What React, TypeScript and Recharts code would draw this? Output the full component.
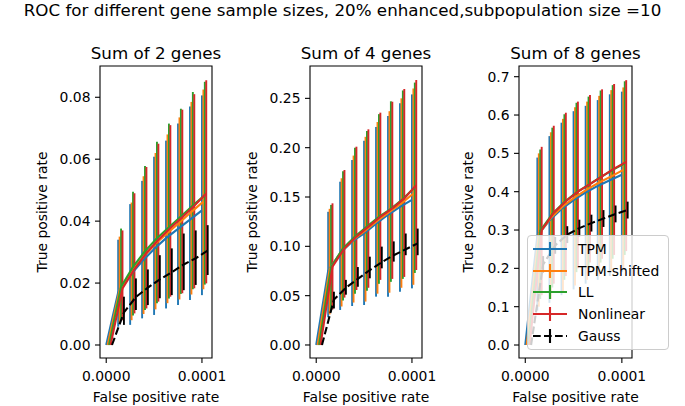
import { ComposedChart, Scatter, ErrorBar, XAxis, YAxis, ReferenceArea, Legend } from 'recharts';

const FONT = '"DejaVu Sans", Verdana, sans-serif';

// false positive rate thresholds
const fpr = [0, 0.0000125, 0.000025, 0.0000375, 0.00005, 0.0000625, 0.000075, 0.0000875, 0.0001];

const seriesNames = ['TPM', 'TPM-shifted', 'LL', 'Nonlinear', 'Gauss'];
const seriesColors = ['#1f77b4', '#ff7f0e', '#2ca02c', '#d62728', '#000000'];
// small x shift per method so the error bars don't sit on top of each other
const seriesShift = [0, 0.0000015, 0.000003, 0.0000045, 0.000006];

// Sum of 2 genes
const tpm2 = [0, 0.017, 0.0225, 0.027, 0.031, 0.0345, 0.0375, 0.0405, 0.0435];
const tpm2Lo = [0, 0.0059, 0.0065, 0.0086, 0.0097, 0.0118, 0.0129, 0.0145, 0.0161];
const tpm2Hi = [0, 0.034, 0.0455, 0.053, 0.0608, 0.066, 0.0715, 0.077, 0.0806];
const shift2 = [0, 0.0178, 0.0237, 0.0285, 0.0327, 0.0362, 0.0395, 0.043, 0.0463];
const shift2Lo = [0, 0.007, 0.008, 0.01, 0.0115, 0.0135, 0.0147, 0.0163, 0.018];
const shift2Hi = [0, 0.035, 0.046, 0.0545, 0.062, 0.068, 0.0735, 0.0785, 0.0825];
const ll2 = [0, 0.0188, 0.0252, 0.0303, 0.0345, 0.038, 0.0415, 0.045, 0.0484];
const ll2Lo = [0, 0.0078, 0.0095, 0.0113, 0.0135, 0.015, 0.0165, 0.018, 0.0195];
const ll2Hi = [0, 0.0376, 0.0495, 0.0578, 0.0656, 0.0715, 0.0763, 0.0817, 0.085];
const nl2 = [0, 0.0183, 0.0245, 0.0297, 0.034, 0.0378, 0.0413, 0.045, 0.0489];
const nl2Lo = [0, 0.008, 0.0102, 0.0118, 0.014, 0.0156, 0.0167, 0.0183, 0.0199];
const nl2Hi = [0, 0.037, 0.049, 0.0575, 0.065, 0.071, 0.076, 0.081, 0.0855];
const gauss2 = [0, 0.0105, 0.0155, 0.0185, 0.0212, 0.0235, 0.026, 0.028, 0.0305];
const gauss2Lo = [0, 0.0065, 0.0113, 0.0129, 0.0151, 0.0161, 0.0177, 0.0194, 0.0226];
const gauss2Hi = [0, 0.0156, 0.0215, 0.0244, 0.029, 0.0312, 0.036, 0.037, 0.0387];

// Sum of 4 genes
const tpm4 = [0, 0.075, 0.093, 0.105, 0.113, 0.123, 0.132, 0.14, 0.147];
const tpm4Lo = [0, 0.028, 0.0355, 0.0395, 0.0405, 0.049, 0.049, 0.054, 0.0574];
const tpm4Hi = [0, 0.135, 0.1655, 0.1875, 0.207, 0.221, 0.232, 0.245, 0.254];
const shift4 = [0, 0.077, 0.095, 0.107, 0.116, 0.126, 0.135, 0.1436, 0.1535];
const shift4Lo = [0, 0.031, 0.039, 0.043, 0.044, 0.052, 0.053, 0.058, 0.061];
const shift4Hi = [0, 0.138, 0.169, 0.192, 0.211, 0.226, 0.237, 0.25, 0.26];
const ll4 = [0, 0.079, 0.098, 0.11, 0.12, 0.13, 0.138, 0.148, 0.16];
const ll4Lo = [0, 0.034, 0.045, 0.052, 0.055, 0.062, 0.064, 0.067, 0.073];
const ll4Hi = [0, 0.142, 0.176, 0.2, 0.217, 0.234, 0.247, 0.258, 0.266];
const nl4 = [0, 0.0794, 0.098, 0.11, 0.12, 0.13, 0.1385, 0.1486, 0.162];
const nl4Lo = [0, 0.036, 0.048, 0.0557, 0.058, 0.066, 0.067, 0.069, 0.076];
const nl4Hi = [0, 0.1436, 0.1774, 0.201, 0.2186, 0.2355, 0.2466, 0.2595, 0.2686];
const gauss4 = [0, 0.046, 0.058, 0.067, 0.076, 0.084, 0.091, 0.097, 0.103];
const gauss4Lo = [0, 0.037, 0.051, 0.059, 0.0676, 0.0777, 0.0845, 0.091, 0.091];
const gauss4Hi = [0, 0.054, 0.066, 0.079, 0.0895, 0.0997, 0.105, 0.113, 0.118];

// Sum of 8 genes
const tpm8 = [0, 0.285, 0.325, 0.355, 0.378, 0.398, 0.415, 0.43, 0.444];
const tpm8Lo = [0, 0.09, 0.11, 0.13, 0.145, 0.16, 0.17, 0.18, 0.19];
const tpm8Hi = [0, 0.489, 0.545, 0.58, 0.61, 0.624, 0.639, 0.654, 0.661];
const shift8 = [0, 0.29, 0.332, 0.362, 0.386, 0.406, 0.424, 0.44, 0.457];
const shift8Lo = [0, 0.1, 0.12, 0.14, 0.155, 0.17, 0.18, 0.19, 0.2];
const shift8Hi = [0, 0.5, 0.555, 0.59, 0.62, 0.635, 0.65, 0.665, 0.672];
const ll8 = [0, 0.298, 0.342, 0.373, 0.398, 0.418, 0.438, 0.457, 0.474];
const ll8Lo = [0, 0.12, 0.15, 0.17, 0.19, 0.2, 0.215, 0.225, 0.235];
const ll8Hi = [0, 0.51, 0.567, 0.602, 0.632, 0.648, 0.664, 0.678, 0.688];
const nl8 = [0, 0.3, 0.345, 0.375, 0.4, 0.42, 0.44, 0.46, 0.478];
const nl8Lo = [0, 0.13, 0.16, 0.18, 0.2, 0.215, 0.225, 0.235, 0.245];
const nl8Hi = [0, 0.517, 0.572, 0.606, 0.635, 0.652, 0.667, 0.681, 0.691];
const gauss8 = [0, 0.21, 0.26, 0.288, 0.305, 0.318, 0.33, 0.342, 0.352];
const gauss8Lo = [0, 0.188, 0.238, 0.266, 0.283, 0.296, 0.308, 0.32, 0.33];
const gauss8Hi = [0, 0.232, 0.282, 0.31, 0.327, 0.34, 0.352, 0.364, 0.374];

const xTicks = [0, 0.0001];
const yTicks2 = [0, 0.02, 0.04, 0.06, 0.08];
const yTicks4 = [0, 0.05, 0.1, 0.15, 0.2, 0.25];
const yTicks8 = [0, 0.1, 0.2, 0.3, 0.4, 0.5, 0.6, 0.7];

const X_DOMAIN: [number, number] = [-0.0000065, 0.0001105];

type Triple = [number[], number[], number[]];

function buildSeries(s: Triple, i: number) {
  const [mean, lo, hi] = s;
  return fpr.map((f, k) => ({
    x: f + seriesShift[i],
    y: mean[k],
    err: [mean[k] - lo[k], hi[k] - mean[k]],
  }));
}

const noDot = () => <g />;

function LegendBox() {
  return (
    <div style={{ width: '100%', height: '100%', boxSizing: 'border-box', paddingTop: 2, paddingLeft: 3 }}>
      {seriesNames.map((name, i) => (
        <div key={name} style={{ display: 'flex', alignItems: 'center', height: 21.7 }}>
          <svg width={38} height={20} style={{ display: 'block' }}>
            <line
              x1={2}
              x2={36}
              y1={10}
              y2={10}
              stroke={seriesColors[i]}
              strokeWidth={2.1}
              strokeDasharray={i === 4 ? '7.7 3.3' : undefined}
            />
            <line x1={19} x2={19} y1={3} y2={17} stroke={seriesColors[i]} strokeWidth={2.1} />
          </svg>
          <span style={{ marginLeft: 9, fontFamily: FONT, fontSize: 13.9, color: '#000', lineHeight: '20px' }}>
            {name}
          </span>
        </div>
      ))}
    </div>
  );
}

interface PanelProps {
  title: string;
  series: Triple[];
  yDomain: [number, number];
  yTicks: number[];
  digits: number;
  left: number;
  width: number;
  marginLeft: number;
  marginRight: number;
  yAxisWidth: number;
  withLegend?: boolean;
}

function Panel({ title, series, yDomain, yTicks, digits, left, width, marginLeft, marginRight, yAxisWidth, withLegend }: PanelProps) {
  return (
    <div style={{ position: 'absolute', left, top: 0 }}>
      <ComposedChart width={width} height={406} margin={{ top: 66, right: marginRight, bottom: 0, left: marginLeft }}>
        <XAxis
          type="number"
          dataKey="x"
          domain={X_DOMAIN}
          allowDataOverflow
          ticks={xTicks}
          interval={0}
          tickFormatter={(v: number) => v.toFixed(4)}
          axisLine={false}
          tickLine={{ stroke: '#000', strokeWidth: 1.1 }}
          tickSize={5}
          tickMargin={8.5}
          tick={{ fill: '#000', fontSize: 13.9, fontFamily: FONT }}
          height={48}
          label={{ value: 'False positive rate', position: 'insideBottom', offset: 4, fill: '#000', fontSize: 13.9, fontFamily: FONT }}
        />
        <YAxis
          type="number"
          dataKey="y"
          domain={yDomain}
          allowDataOverflow
          ticks={yTicks}
          interval={0}
          tickFormatter={(v: number) => v.toFixed(digits)}
          axisLine={false}
          tickLine={{ stroke: '#000', strokeWidth: 1.1 }}
          tickSize={5}
          tickMargin={4.5}
          tick={{ fill: '#000', fontSize: 13.9, fontFamily: FONT }}
          width={yAxisWidth}
          label={{
            value: 'True positive rate',
            angle: -90,
            position: 'insideLeft',
            offset: 7,
            fill: '#000',
            fontSize: 13.9,
            fontFamily: FONT,
            style: { textAnchor: 'middle' },
          }}
        />
        {series.map((s, i) => (
          <Scatter
            key={seriesNames[i]}
            name={seriesNames[i]}
            data={buildSeries(s, i)}
            fill={seriesColors[i]}
            line={{ stroke: seriesColors[i], strokeWidth: 2.1, strokeDasharray: i === 4 ? '7.7 3.3' : undefined }}
            lineType="joint"
            shape={noDot}
            isAnimationActive={false}
          >
            <ErrorBar dataKey="err" direction="y" width={0} stroke={seriesColors[i]} strokeWidth={1.9} isAnimationActive={false} />
          </Scatter>
        ))}
        <ReferenceArea
          x1={X_DOMAIN[0]}
          x2={X_DOMAIN[1]}
          y1={yDomain[0]}
          y2={yDomain[1]}
          fill="none"
          stroke="#000"
          strokeWidth={1.1}
          ifOverflow="visible"
          label={{ value: title, position: 'top', offset: 7.5, fill: '#000', fontSize: 16.7, fontFamily: FONT }}
        />
        {withLegend && (
          <Legend
            layout="vertical"
            align="center"
            verticalAlign="middle"
            content={() => <LegendBox />}
            wrapperStyle={{
              left: 87,
              top: 235,
              width: 142,
              height: 115,
              background: 'rgba(255,255,255,0.8)',
              border: '1px solid #cccccc',
              borderRadius: 4,
              boxSizing: 'border-box',
            }}
          />
        )}
      </ComposedChart>
    </div>
  );
}

export default function App() {
  return (
    <div style={{ position: 'absolute', left: 0, top: 0, width: 685, height: 406, background: '#fff', overflow: 'hidden' }}>
      <div
        style={{
          position: 'absolute',
          left: 0,
          top: 0,
          width: 685,
          textAlign: 'center',
          fontFamily: FONT,
          fontSize: 16.7,
          lineHeight: '20px',
          color: '#000',
          whiteSpace: 'nowrap',
        }}
      >
        ROC for different gene sample sizes, 20% enhanced,subpopulation size =10
      </div>
      <Panel
        title="Sum of 2 genes"
        series={[
          [tpm2, tpm2Lo, tpm2Hi],
          [shift2, shift2Lo, shift2Hi],
          [ll2, ll2Lo, ll2Hi],
          [nl2, nl2Lo, nl2Hi],
          [gauss2, gauss2Lo, gauss2Hi],
        ]}
        yDomain={[-0.0042, 0.0901]}
        yTicks={yTicks2}
        digits={2}
        left={0}
        width={230}
        marginLeft={35}
        marginRight={18}
        yAxisWidth={65}
      />
      <Panel
        title="Sum of 4 genes"
        series={[
          [tpm4, tpm4Lo, tpm4Hi],
          [shift4, shift4Lo, shift4Hi],
          [ll4, ll4Lo, ll4Hi],
          [nl4, nl4Lo, nl4Hi],
          [gauss4, gauss4Lo, gauss4Hi],
        ]}
        yDomain={[-0.0132, 0.2828]}
        yTicks={yTicks4}
        digits={2}
        left={230}
        width={210}
        marginLeft={15}
        marginRight={18}
        yAxisWidth={65}
      />
      <Panel
        title="Sum of 8 genes"
        series={[
          [tpm8, tpm8Lo, tpm8Hi],
          [shift8, shift8Lo, shift8Hi],
          [ll8, ll8Lo, ll8Hi],
          [nl8, nl8Lo, nl8Hi],
          [gauss8, gauss8Lo, gauss8Hi],
        ]}
        yDomain={[-0.0339, 0.7279]}
        yTicks={yTicks8}
        digits={1}
        left={440}
        width={245}
        marginLeft={21}
        marginRight={53}
        yAxisWidth={58}
        withLegend
      />
    </div>
  );
}
